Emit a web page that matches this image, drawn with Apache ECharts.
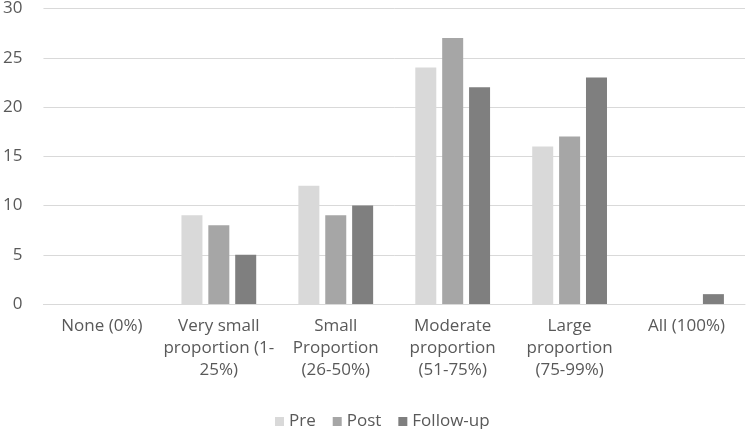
<!DOCTYPE html>
<html><head><meta charset="utf-8">
<script src="https://cdn.jsdelivr.net/npm/echarts@6/dist/echarts.min.js"></script>
<style>html,body{margin:0;padding:0;background:#fff}#c{width:750px;height:429px}</style>
</head><body><div id="c"></div>
<script>
const categories = ["None (0%)", "Very small\nproportion (1-\n25%)", "Small\nProportion\n(26-50%)", "Moderate\nproportion\n(51-75%)", "Large\nproportion\n(75-99%)", "All (100%)"];
const pre = [0, 9, 12, 24, 16, 0];
const post = [0, 8, 9, 27, 17, 0];
const followUp = [0, 5, 10, 22, 23, 1];
const seriesNames = ["Pre", "Post", "Follow-up"];
const colors = ["#d9d9d9", "#a6a6a6", "#7f7f7f"];

const chart = echarts.init(document.getElementById('c'));
const font = "'Open Sans', sans-serif";
chart.setOption({
  animation: false,
  color: colors,
  textStyle: { fontFamily: font },
  grid: { left: 37, right: 5, top: 7, bottom: 125, containLabel: false },
  legend: {
    top: 408, left: 270, itemWidth: 9, itemHeight: 9, itemGap: 17,
    icon: 'rect',
    textStyle: { color: '#595959', fontSize: 17, fontFamily: font },
    data: seriesNames
  },
  xAxis: {
    type: 'category', data: categories,
    axisLine: { lineStyle: { color: '#d9d9d9', width: 1 } },
    axisTick: { show: false },
    axisLabel: { color: '#595959', fontSize: 17, fontFamily: font, lineHeight: 22, margin: 11, interval: 0 }
  },
  yAxis: {
    type: 'value', min: 0, max: 30, interval: 5,
    axisLine: { show: false }, axisTick: { show: false },
    splitLine: { lineStyle: { color: '#d9d9d9', width: 1 } },
    axisLabel: { color: '#595959', fontSize: 17, fontFamily: font, margin: 21 }
  },
  series: [
    { name: seriesNames[0], type: 'bar', data: pre, barWidth: 21, barGap: '28%' },
    { name: seriesNames[1], type: 'bar', data: post, barWidth: 21, barGap: '28%' },
    { name: seriesNames[2], type: 'bar', data: followUp, barWidth: 21, barGap: '28%' }
  ]
});
</script></body></html>
